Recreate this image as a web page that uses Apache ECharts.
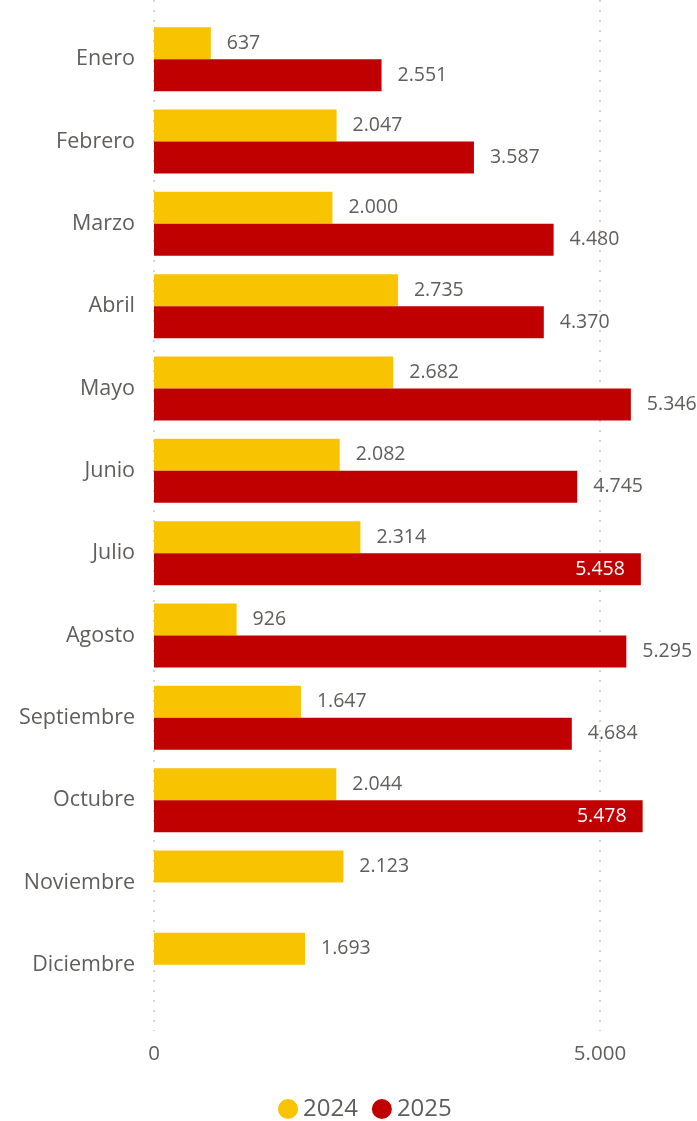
<!DOCTYPE html>
<html><head><meta charset="utf-8">
<script src="https://cdn.jsdelivr.net/npm/echarts@6/dist/echarts.min.js"></script>
<style>html,body{margin:0;padding:0;background:#fff}#c{width:697px;height:1121px}</style>
</head><body><div id="c"></div>
<script>
const categories = ['Enero','Febrero','Marzo','Abril','Mayo','Junio','Julio','Agosto','Septiembre','Octubre','Noviembre','Diciembre'];
const values2024 = [637, 2047, 2000, 2735, 2682, 2082, 2314, 926, 1647, 2044, 2123, 1693];
const values2025 = [2551, 3587, 4480, 4370, 5346, 4745, 5458, 5295, 4684, 5478, null, null];
const insideLabelMonths = ['Julio', 'Octubre'];
const xTicks = [0, 5000];

const FONT = '"Open Sans", "Noto Sans", sans-serif';
const GRAY = '#605E5C';
const fmt = v => Math.round(v).toString().replace(/\B(?=(\d{3})+(?!\d))/g, '.');
const XMAX = 6000;

const chart = echarts.init(document.getElementById('c'));
chart.setOption({
  animation: false,
  textStyle: { fontFamily: FONT },
  legend: {
    data: ['2024', '2025'],
    bottom: 0, left: 278, padding: 0,
    icon: 'circle', itemWidth: 20, itemHeight: 20, itemGap: 14,
    textStyle: { fontSize: 24, color: GRAY, fontFamily: FONT, padding: [0, 0, 0, 0] }
  },
  grid: [
    { left: 154, right: 697 - 154 - 446 * XMAX / 5000, top: 18, bottom: 115, containLabel: false },
    { left: 154, right: 697 - 154 - 446 * XMAX / 5000, top: 0, bottom: 90, containLabel: false }
  ],
  xAxis: [
    {
      gridIndex: 0, type: 'value', min: 0, max: XMAX, interval: 5000,
      axisLine: { show: false }, axisTick: { show: false }, splitLine: { show: false },
      axisLabel: { show: false }
    },
    {
      gridIndex: 1, type: 'value', min: 0, max: XMAX, interval: 5000,
      axisLine: { show: false }, axisTick: { show: false },
      splitLine: { show: true, showMaxLine: false, lineStyle: { color: '#c8c8c8', type: [2, 8], width: 1.5 } },
      axisLabel: {
        show: true, fontSize: 20.5, color: GRAY, margin: 13, fontFamily: FONT,
        showMaxLabel: false,
        formatter: v => xTicks.includes(v) ? fmt(v) : ''
      }
    }
  ],
  yAxis: [
    {
      gridIndex: 0, type: 'category', data: categories, inverse: true,
      axisLine: { show: false }, axisTick: { show: false },
      axisLabel: { fontSize: 21.5, color: GRAY, margin: 19, fontFamily: FONT, padding: [3, 0, 0, 0] }
    },
    {
      gridIndex: 1, type: 'category', data: [''], show: false
    }
  ],
  series: [
    {
      name: '2024', type: 'bar', data: values2024, barWidth: 32, barGap: '0%',
      xAxisIndex: 0, yAxisIndex: 0,
      itemStyle: { color: '#F8C300' },
      label: { show: true, position: 'right', distance: 16, fontSize: 19.5, color: GRAY, fontFamily: FONT,
        formatter: p => fmt(p.value) }
    },
    {
      name: '2025', type: 'bar', barWidth: 32,
      xAxisIndex: 0, yAxisIndex: 0,
      data: values2025.map((v, i) => insideLabelMonths.includes(categories[i])
        ? { value: v, label: { position: 'insideRight', color: '#ffffff', distance: 16 } }
        : v),
      itemStyle: { color: '#C00000' },
      label: { show: true, position: 'right', distance: 16, fontSize: 19.5, color: GRAY, fontFamily: FONT,
        formatter: p => p.value == null ? '' : fmt(p.value) }
    },
    {
      name: 'grid', type: 'bar', data: [], xAxisIndex: 1, yAxisIndex: 1
    }
  ]
});
</script></body></html>
